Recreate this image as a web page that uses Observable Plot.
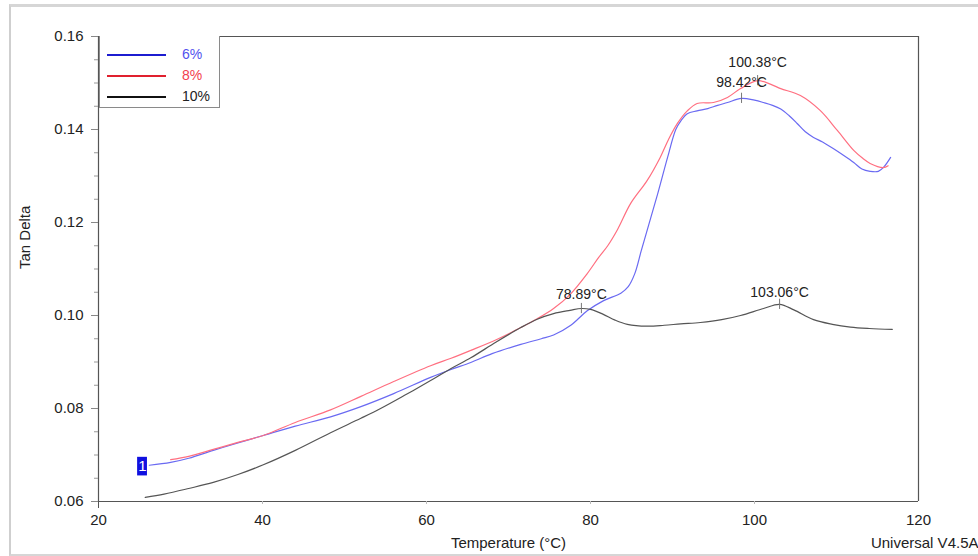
<!DOCTYPE html>
<html>
<head>
<meta charset="utf-8">
<script src="https://cdn.jsdelivr.net/npm/d3@7"></script>
<script src="https://cdn.jsdelivr.net/npm/@observablehq/plot@0.6"></script>
<style>
  html, body { margin: 0; padding: 0; background: #fff; }
  #wrap { position: relative; width: 978px; height: 556px; overflow: hidden; font-family: "Liberation Sans", Arial, sans-serif; }
  #border { position: absolute; left: 9px; top: 4px; width: 1000px; height: 547px; border-top: 3px solid #d6d6d6; border-left: 2px solid #cfcfcf; border-bottom: 2px solid #d6d6d6; }
  #legend { position: absolute; left: 99px; top: 36px; width: 119px; height: 71px; border: 1px solid #8a8a8a; border-top: none; background: #fff; font-size: 14px; }
  .row { position: absolute; left: 7px; height: 16px; width: 110px; }
  .row .ln { position: absolute; left: 0; top: 8px; width: 59px; height: 2px; }
  .row .lb { position: absolute; left: 75px; top: 0; line-height: 16px; }
  svg { position: absolute; left: 0; top: 0; }
</style>
</head>
<body>
<div id="wrap">
  <div id="border"></div>
  <div id="chart"></div>
  <div id="legend"></div>
</div>
<script>
// ---- Data ----
const seriesNames = ["6%", "8%", "10%"];
const lineColors = ["#6a6af2", "#ff6f80", "#555555"];
const legendLineColors = ["#1c1cd0", "#e0202e", "#111111"];
const legendTextColors = ["#5252ee", "#f2404e", "#222222"];

const temp6 = [26.2, 28.8, 31.0, 34.0, 37.0, 40.1, 44.0, 48.3, 52.0, 56.0, 60.5, 63.0, 65.4, 68.0, 71.5, 74.0, 75.5, 77.6, 79.6, 81.6, 83.7, 84.6, 85.4, 86.2, 87.1, 88.2, 89.4, 90.4, 91.0, 91.8, 93.0, 94.3, 95.5, 96.7, 98.42, 100.0, 101.1, 102.2, 103.2, 104.2, 105.2, 106.2, 107.2, 108.3, 109.6, 110.8, 112.1, 113.1, 114.1, 115.1, 115.8, 116.6];
const tan6 = [0.0678, 0.0684, 0.0693, 0.0710, 0.0726, 0.0742, 0.0762, 0.0782, 0.0804, 0.0832, 0.0867, 0.0884, 0.0899, 0.0918, 0.0938, 0.0950, 0.0958, 0.0979, 0.1010, 0.1032, 0.1048, 0.1062, 0.1090, 0.1140, 0.1195, 0.1262, 0.1340, 0.1400, 0.1418, 0.1434, 0.1440, 0.1445, 0.1452, 0.1458, 0.1467, 0.1463, 0.1458, 0.1452, 0.1444, 0.1430, 0.1413, 0.1395, 0.1383, 0.1373, 0.1359, 0.1345, 0.1329, 0.1315, 0.1310, 0.1310, 0.1320, 0.1340];

const temp8 = [28.8, 31.0, 34.0, 37.0, 40.1, 44.0, 48.3, 52.0, 56.0, 60.5, 63.0, 65.4, 68.5, 71.5, 73.5, 75.5, 77.5, 79.6, 81.0, 82.1, 83.3, 84.9, 86.9, 88.5, 89.5, 90.6, 91.8, 93.0, 95.0, 96.7, 98.3, 100.38, 102.0, 103.2, 105.6, 108.0, 110.1, 112.1, 113.2, 114.1, 115.7, 116.3];
const tan8 = [0.0690, 0.0697, 0.0712, 0.0727, 0.0742, 0.0770, 0.0797, 0.0826, 0.0858, 0.0892, 0.0908, 0.0925, 0.0948, 0.0974, 0.0993, 0.1015, 0.1045, 0.1090, 0.1125, 0.1150, 0.1185, 0.1241, 0.1290, 0.1340, 0.1378, 0.1413, 0.1440, 0.1456, 0.1458, 0.1469, 0.1488, 0.1505, 0.1497, 0.1488, 0.1473, 0.1441, 0.1398, 0.1355, 0.1338, 0.1327, 0.1318, 0.1322];

const temp10 = [25.7, 28.0, 31.0, 34.0, 37.0, 40.1, 44.0, 48.3, 52.0, 54.4, 57.5, 60.5, 63.0, 65.4, 68.5, 71.5, 73.5, 75.5, 77.5, 78.89, 80.0, 81.5, 83.0, 84.5, 86.9, 89.0, 91.0, 93.4, 96.0, 98.3, 101.1, 103.06, 104.8, 107.2, 109.5, 111.7, 114.0, 116.8];
const tan10 = [0.0609, 0.0616, 0.0628, 0.0641, 0.0658, 0.0679, 0.0710, 0.0748, 0.0779, 0.0800, 0.0830, 0.0860, 0.0886, 0.0909, 0.0943, 0.0974, 0.0992, 0.1004, 0.1011, 0.1015, 0.1013, 0.1003, 0.0990, 0.0981, 0.0977, 0.0979, 0.0982, 0.0985, 0.0991, 0.1000, 0.1015, 0.1024, 0.1012, 0.0991, 0.0981, 0.0975, 0.0972, 0.0970];

// Peak annotations
const peakTemps = [100.38, 98.42, 78.89, 103.06];
const peakTans = [0.1505, 0.1467, 0.1015, 0.1024];
const peakLabels = ["100.38°C", "98.42°C", "78.89°C", "103.06°C"];
const peakLabelOffsets = [-14, -11, -10, -7];

// Curve marker "1"
const markerTemp = [25.37];
const markerTan = [0.0675];
const markerText = ["1"];

// Axis ticks
const xTicks = [20, 40, 60, 80, 100, 120];
const yTicks = [0.06, 0.08, 0.10, 0.12, 0.14, 0.16];
const yMinorTicks = [0.065, 0.07, 0.075, 0.085, 0.09, 0.095, 0.105, 0.11, 0.115, 0.125, 0.13, 0.135, 0.145, 0.15, 0.155];

// ---- Build tables ----
const rows = [];
[[temp6, tan6], [temp8, tan8], [temp10, tan10]].forEach(([ts, vs], k) => {
  ts.forEach((t, i) => rows.push({series: seriesNames[k], T: t, v: vs[i]}));
});
const peaks = peakTemps.map((t, i) => ({T: t, v: peakTans[i], label: peakLabels[i], dy: peakLabelOffsets[i]}));
const markers = markerTemp.map((t, i) => ({T: t, v: markerTan[i], text: markerText[i]}));

const font = "'Liberation Sans', Arial, sans-serif";
const axisColor = "#555";

const chart = Plot.plot({
  width: 978,
  height: 556,
  marginLeft: 98,
  marginRight: 60,
  marginTop: 36,
  marginBottom: 55,
  style: {fontFamily: font, fontSize: "15px", color: "#222", background: "transparent", overflow: "visible"},
  x: {domain: [20, 120]},
  y: {domain: [0.06, 0.16]},
  color: {domain: seriesNames, range: lineColors},
  marks: [
    // frame
    Plot.ruleX([20, 120], {stroke: axisColor, strokeWidth: 1.2}),
    Plot.ruleY([0.06, 0.16], {stroke: axisColor, strokeWidth: 1.2}),
    // y axis
    Plot.axisY({ticks: yMinorTicks, tickSize: 4, text: null, stroke: "#999", label: null}),
    Plot.axisY({ticks: yTicks, tickSize: 7, tickPadding: 8, tickFormat: d3.format(".2f"), stroke: "#888", label: null, fontSize: 15}),
    // x axis
    Plot.axisX({ticks: [20], tickSize: 7, text: null, stroke: axisColor, label: null}),
    Plot.axisX({ticks: [40, 60, 80, 100], tickSize: 3, text: null, stroke: "#bbb", label: null}),
    Plot.axisX({ticks: xTicks, tickSize: 0, tickPadding: 13, label: null, fontSize: 15}),
    // axis titles
    Plot.text(["Tan Delta"], {frameAnchor: "left", dx: -73, rotate: -90, fontSize: 15, fill: "#222"}),
    Plot.text(["Temperature (°C)"], {frameAnchor: "bottom", dy: 46, fontSize: 15, fill: "#222"}),
    Plot.text(["Universal V4.5A"], {frameAnchor: "bottom-right", dx: 60, dy: 46, textAnchor: "end", fontSize: 15, fill: "#222"}),
    // data lines
    Plot.line(rows, {x: "T", y: "v", z: "series", stroke: "series", strokeWidth: 1.2, curve: "catmull-rom"}),
    // peak markers
    Plot.ruleX(peaks, {x: "T", y1: d => d.v - 0.0011, y2: d => d.v + 0.0011, stroke: "#777", strokeWidth: 1}),
    Plot.text(peaks, {x: "T", y: "v", text: "label", fontSize: 14, fill: "#222"}),
    // curve marker "1"
    Plot.rect(markers, {x1: d => d.T - 0.6, x2: d => d.T + 0.6, y1: d => d.v - 0.002, y2: d => d.v + 0.002, fill: "#1010e0"}),
    Plot.text(markers, {x: "T", y: "v", text: "text", fill: "#fff", fontSize: 15})
  ]
});
document.getElementById("chart").appendChild(chart);

// per-datum vertical offsets for the peak labels
(function () {
  const groups = chart.querySelectorAll("g[aria-label='text']");
  groups.forEach(g => {
    const texts = g.querySelectorAll("text");
    if (texts.length === peaks.length) {
      texts.forEach((t, i) => {
        t.setAttribute("y", String(peaks[i].dy));
      });
    }
  });
})();

// legend
const legend = document.getElementById("legend");
seriesNames.forEach((name, i) => {
  const row = document.createElement("div");
  row.className = "row";
  row.style.top = (10 + i * 21) + "px";
  const ln = document.createElement("div");
  ln.className = "ln";
  ln.style.background = legendLineColors[i];
  const lb = document.createElement("div");
  lb.className = "lb";
  lb.style.color = legendTextColors[i];
  lb.textContent = name;
  row.appendChild(ln);
  row.appendChild(lb);
  legend.appendChild(row);
});
</script>
</body>
</html>
